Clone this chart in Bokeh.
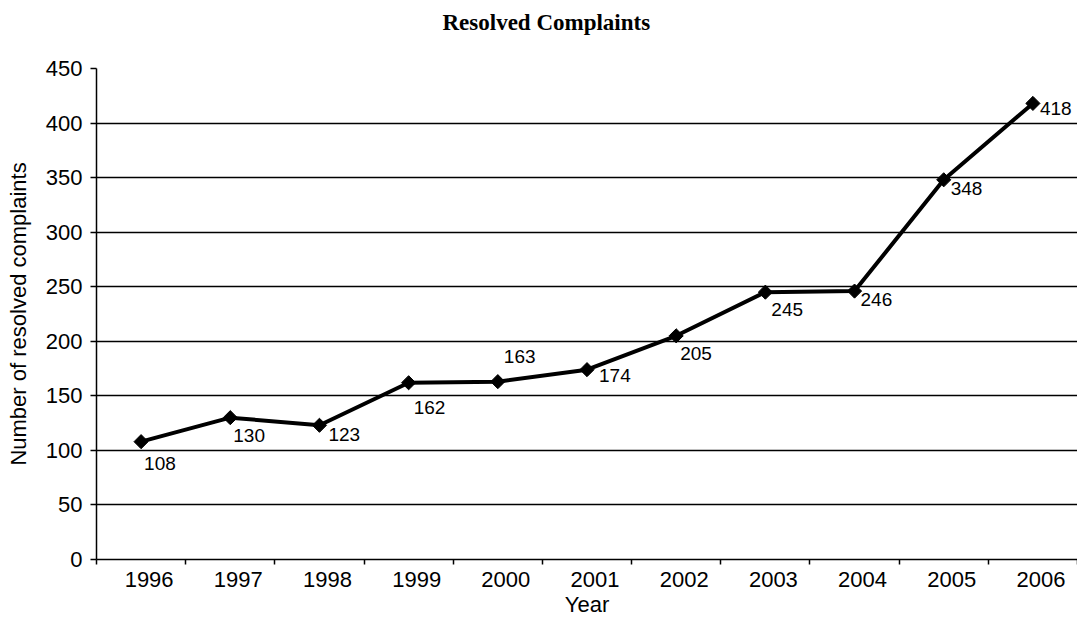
import math
from bokeh.plotting import figure
from bokeh.models import Range1d, FixedTicker, CustomJSTickFormatter, ColumnDataSource, Title
from bokeh.core.properties import value
from bokeh.embed import file_html
from bokeh.resources import INLINE

title_text = "Resolved Complaints"
x_title = "Year"
y_title = "Number of resolved complaints"
years = [1996, 1997, 1998, 1999, 2000, 2001, 2002, 2003, 2004, 2005, 2006]
resolved = [108, 130, 123, 162, 163, 174, 205, 245, 246, 348, 418]
labels = [str(v) for v in resolved]
# label placement (pixels, relative to the marker)
label_dx = [3, 3, 9, 5, 6, 12, 4, 6, 6, 7, 7]
label_dy = [15, 11, 3, 18, -32, -1, 11, 11, 2, 2, -1]
y_ticks = [0, 50, 100, 150, 200, 250, 300, 350, 400, 450]

idx = list(range(len(years)))
src = ColumnDataSource(dict(x=idx, y=resolved, lab=labels, dx=label_dx, dy=label_dy))

p = figure(width=1077, height=619, output_backend="svg", toolbar_location=None,
           x_range=Range1d(-0.5, len(years) - 0.5), y_range=Range1d(0, 450),
           min_border_left=96, min_border_right=0, min_border_top=68, min_border_bottom=53)
p.outline_line_color = None

# spacer between frame and title
p.add_layout(Title(text=" ", text_font_size="1px", standoff=27), "above")

p.title.text = title_text
p.title.text_font = "Liberation Serif"
p.title.text_font_style = "bold"
p.title.text_font_size = "23px"
p.title.text_color = "black"
p.title.align = "left"
p.title.offset = 346
p.title.standoff = 8

p.line("x", "y", source=src, line_color="black", line_width=4)
p.scatter("x", "y", source=src, marker="square", size=10, angle=math.pi / 4,
          fill_color="black", line_color="black")
p.text("x", "y", text="lab", source=src, x_offset="dx", y_offset="dy",
       text_font=value("Liberation Sans"), text_font_size="19px",
       text_align="left", text_baseline="top", text_color="black")

# x axis
xa = p.xaxis[0]
xa.ticker = FixedTicker(ticks=[i + 0.09 for i in idx], minor_ticks=[i - 0.5 for i in range(len(years) + 1)])
xa.formatter = CustomJSTickFormatter(args=dict(years=years), code="return String(years[Math.round(tick - 0.09)]);")
xa.major_tick_line_color = None
xa.minor_tick_line_color = "black"
xa.minor_tick_line_width = 1.5
xa.minor_tick_out = 5
xa.minor_tick_in = 0
xa.axis_line_color = "black"
xa.axis_line_width = 1.5
xa.major_label_text_font = "Liberation Sans"
xa.major_label_text_font_size = "22px"
xa.major_label_text_color = "black"
xa.major_label_standoff = 6
xa.axis_label = x_title
xa.axis_label_text_font = "Liberation Sans"
xa.axis_label_text_font_size = "22px"
xa.axis_label_text_font_style = "normal"
xa.axis_label_text_color = "black"
xa.axis_label_standoff = 2

ya = p.yaxis[0]
ya.ticker = FixedTicker(ticks=y_ticks)
ya.major_tick_out = 6
ya.major_tick_in = 0
ya.major_tick_line_width = 1.5
ya.minor_tick_line_color = None
ya.axis_line_width = 1.5
ya.major_label_text_font = "Liberation Sans"
ya.major_label_text_font_size = "22px"
ya.major_label_text_color = "black"
ya.major_label_standoff = 8
ya.axis_label = y_title
ya.axis_label_text_font = "Liberation Sans"
ya.axis_label_text_font_size = "22px"
ya.axis_label_text_font_style = "normal"
ya.axis_label_text_color = "black"
ya.axis_label_standoff = 12

p.xgrid.grid_line_color = None
p.ygrid.ticker = FixedTicker(ticks=y_ticks)
p.ygrid.grid_line_color = "black"
p.ygrid.grid_line_width = 1.5

open("out.html", "w").write(file_html(p, INLINE))
